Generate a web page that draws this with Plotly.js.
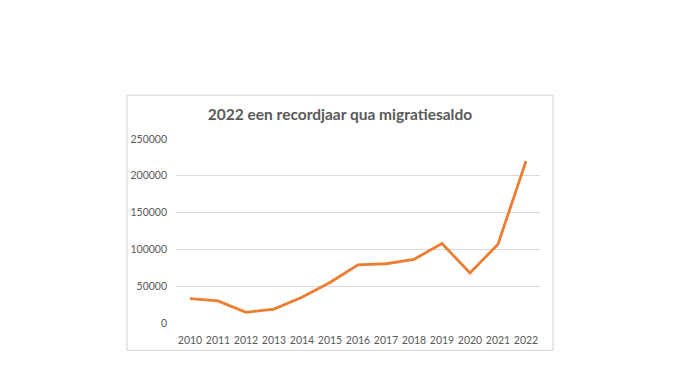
<!DOCTYPE html>
<html><head><meta charset="utf-8">
<script src="https://cdn.plot.ly/plotly-3.0.1.min.js"></script>
<style>html,body{margin:0;padding:0;background:#fff;}#c{width:680px;height:383px;}</style>
</head><body><div id="c"></div>
<script>
const years = ['2010','2011','2012','2013','2014','2015','2016','2017','2018','2019','2020','2021','2022'];
const saldo = [33000, 30000, 14500, 19000, 35000, 55000, 79000, 80500, 86500, 108000, 68000, 107000, 220000];
const yTicks = [0, 50000, 100000, 150000, 200000, 250000];
const chartTitle = '2022 een recordjaar qua migratiesaldo';

const data = [{
  x: years, y: saldo, type: 'scatter', mode: 'lines',
  line: {color: '#ED7D31', width: 2.8}, hoverinfo: 'skip'
}];
const layout = {
  width: 680, height: 383,
  margin: {l: 176, r: 140, t: 139, b: 59.5, pad: 0},
  paper_bgcolor: '#ffffff', plot_bgcolor: 'rgba(0,0,0,0)',
  showlegend: false,
  font: {family: 'Lato, sans-serif', color: '#595959', size: 10},
  title: {text: '<b>' + chartTitle + '</b>', x: 340/680, xanchor: 'center', xref: 'container',
          y: 1 - 115/383, yanchor: 'middle', yref: 'container',
          font: {family: 'Lato, sans-serif', size: 15.5, color: '#595959'}},
  xaxis: {type: 'category', range: [-0.5, 12.5], showgrid: false, zeroline: false,
          showline: false, ticks: '', ticklabelstandoff: 9,
          tickfont: {size: 10.5, color: '#595959'}, fixedrange: true},
  yaxis: {range: [0, 250000], tickvals: yTicks, ticktext: yTicks.map(String), showgrid: true,
          gridcolor: '#d9d9d9', gridwidth: 1, zeroline: false, showline: false, ticks: '',
          ticklabelstandoff: 8, tickfont: {size: 10.5, color: '#595959'}, fixedrange: true},
  shapes: [{type: 'rect', xref: 'paper', yref: 'paper', x0: -0.1346, x1: 1.0357, y0: -0.149, y1: 1.2385,
            line: {color: '#d0d0d0', width: 1}, fillcolor: 'rgba(0,0,0,0)', layer: 'below'}]
};
Plotly.newPlot('c', data, layout, {displayModeBar: false, staticPlot: true});
</script></body></html>
